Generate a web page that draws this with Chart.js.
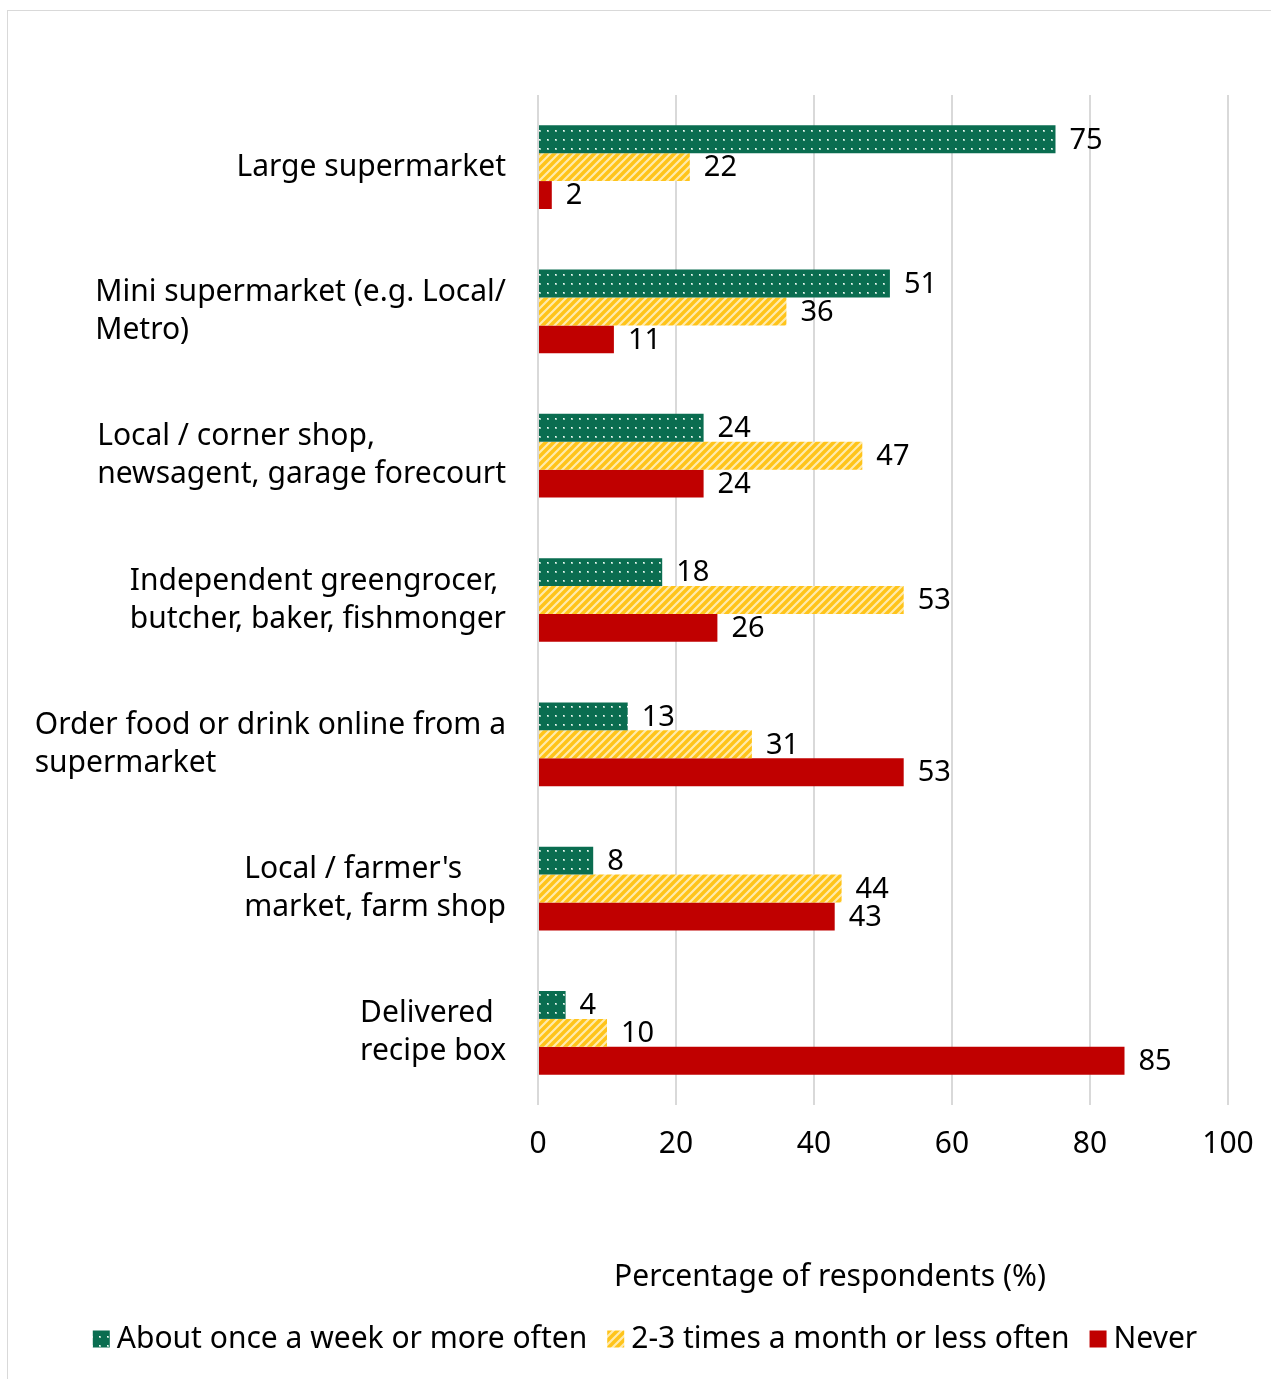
<!DOCTYPE html>
<html>
<head>
<meta charset="utf-8">
<script src="https://cdn.jsdelivr.net/npm/chart.js@4.4.0/dist/chart.umd.min.js"></script>
<style>
  html, body { margin: 0; padding: 0; background: #fff; }
  #frame { position: absolute; left: 7px; top: 10px; width: 1270px; height: 1380px; border: 1px solid #d9d9d9; box-sizing: border-box; }
  #wrap { position: absolute; left: 0; top: 0; width: 1271px; height: 1379px; }
</style>
</head>
<body>
<div id="frame"></div>
<div id="wrap"><canvas id="chart" width="1271" height="1379"></canvas></div>
<script>
const categories = [
  ['Large supermarket'],
  ['Mini supermarket (e.g. Local/', 'Metro)'],
  ['Local / corner shop,', 'newsagent, garage forecourt'],
  ['Independent greengrocer,', 'butcher, baker, fishmonger'],
  ['Order food or drink online from a', 'supermarket'],
  ["Local / farmer's", 'market, farm shop'],
  ['Delivered', 'recipe box']
];
const weekly = [75, 51, 24, 18, 13, 8, 4];
const monthly = [22, 36, 47, 53, 31, 44, 10];
const never = [2, 11, 24, 26, 53, 43, 85];
const seriesNames = ['About once a week or more often', '2-3 times a month or less often', 'Never'];
const xTicks = [0, 20, 40, 60, 80, 100];
const axisTitle = 'Percentage of respondents (%)';

const FONT = '"Noto Sans", sans-serif';

// pattern fills
function dotPattern() {
  const c = document.createElement('canvas');
  c.width = 8; c.height = 9;
  const g = c.getContext('2d');
  g.fillStyle = '#0a6d50';
  g.fillRect(0, 0, 8, 9);
  g.fillStyle = 'rgba(190,225,210,0.8)';
  g.fillRect(3, 4, 2, 2);
  g.fillStyle = 'rgba(255,255,255,0.9)';
  g.fillRect(3, 4, 1, 1);
  return g.createPattern(c, 'repeat');
}
function stripePattern() {
  const c = document.createElement('canvas');
  c.width = 8; c.height = 8;
  const g = c.getContext('2d');
  g.fillStyle = '#ffc41a';
  g.fillRect(0, 0, 8, 8);
  g.strokeStyle = 'rgba(255,240,190,0.9)';
  g.lineWidth = 2.2;
  g.beginPath();
  g.moveTo(-2, 10); g.lineTo(10, -2);
  g.moveTo(-6, 6); g.lineTo(6, -6);
  g.moveTo(2, 14); g.lineTo(14, 2);
  g.stroke();
  return g.createPattern(c, 'repeat');
}
const fills = [dotPattern(), stripePattern(), '#c00000'];

const extras = {
  id: 'extras',
  afterDraw(chart) {
    const ctx = chart.ctx;
    const x = chart.scales.x;
    const y = chart.scales.y;
    ctx.save();
    ctx.fillStyle = '#000';
    ctx.textBaseline = 'middle';

    // category labels: lines left aligned, block right aligned
    ctx.font = '30px ' + FONT;
    ctx.textAlign = 'left';
    const lh = 38;
    categories.forEach((lines, i) => {
      const cy = y.getPixelForTick(i);
      const w = Math.max(...lines.map(l => ctx.measureText(l).width));
      const x0 = 506 - w;
      const top = cy - (lines.length - 1) * lh / 2;
      lines.forEach((l, k) => ctx.fillText(l, x0, top + k * lh));
    });

    // x tick labels
    ctx.textAlign = 'center';
    xTicks.forEach(v => ctx.fillText(String(v), x.getPixelForValue(v), x.bottom - 60 + 39));

    // value labels
    ctx.textAlign = 'left';
    ctx.font = '29px ' + FONT;
    chart.data.datasets.forEach((ds, di) => {
      const meta = chart.getDatasetMeta(di);
      meta.data.forEach((bar, i) => {
        ctx.fillText(String(ds.data[i]), bar.x + 14, bar.y + 1);
      });
    });

    // axis title
    ctx.font = '30px ' + FONT;
    ctx.textAlign = 'center';
    ctx.fillText(axisTitle, 830, 1277);

    // legend
    ctx.textAlign = 'left';
    const box = 17, gapIn = 7, gapOut = 20;
    const widths = seriesNames.map(n => ctx.measureText(n).width);
    const total = widths.reduce((a, b) => a + b, 0) + seriesNames.length * (box + gapIn) + gapOut * (seriesNames.length - 1);
    let lx = 645 - total / 2;
    const ly = 1339;
    seriesNames.forEach((n, i) => {
      ctx.fillStyle = fills[i];
      ctx.fillRect(lx, ly - box / 2, box, box);
      ctx.fillStyle = '#000';
      ctx.fillText(n, lx + box + gapIn, ly);
      lx += box + gapIn + widths[i] + gapOut;
    });
    ctx.restore();
  }
};

new Chart(document.getElementById('chart'), {
  type: 'bar',
  data: {
    labels: categories.map(c => c.join(' ')),
    datasets: [
      { label: seriesNames[0], data: weekly, backgroundColor: fills[0] },
      { label: seriesNames[1], data: monthly, backgroundColor: fills[1] },
      { label: seriesNames[2], data: never, backgroundColor: fills[2] }
    ]
  },
  options: {
    indexAxis: 'y',
    responsive: false,
    animation: false,
    layout: { padding: { top: 95, right: 43, bottom: 214, left: 0 } },
    datasets: { bar: { categoryPercentage: 0.58, barPercentage: 1.0 } },
    plugins: { legend: { display: false }, tooltip: { enabled: false } },
    scales: {
      x: {
        min: 0, max: 100,
        afterBuildTicks(scale) { scale.ticks = xTicks.map(v => ({ value: v })); },
        afterFit(scale) { scale.height = 60; scale.paddingLeft = 0; scale.paddingRight = 0; },
        grid: { color: '#d9d9d9', lineWidth: 2, drawTicks: false },
        border: { display: false },
        ticks: { display: false }
      },
      y: {
        afterFit(scale) { scale.width = 538; },
        grid: { display: false },
        border: { display: false },
        ticks: { display: false }
      }
    }
  },
  plugins: [extras]
});
</script>
</body>
</html>
